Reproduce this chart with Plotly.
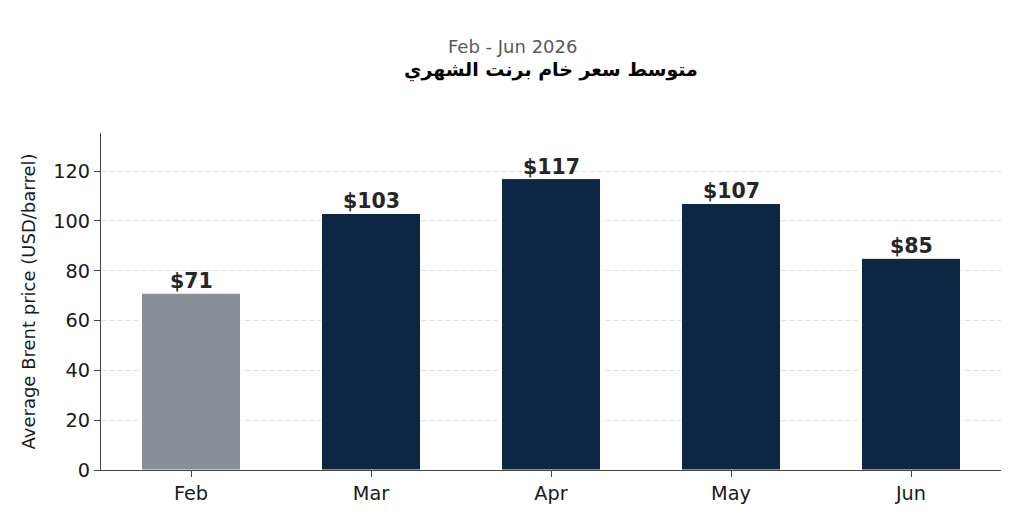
import plotly.graph_objects as go

# %% Data
months = ["Feb", "Mar", "Apr", "May", "Jun"]
brent_avg = [71, 103, 117, 107, 85]
bar_colors = ["#8a8e97", "#0d2644", "#0d2644", "#0d2644", "#0d2644"]
y_ticks = [0, 20, 40, 60, 80, 100, 120]

title_ar = "متوسط سعر خام برنت الشهري"
subtitle = "Feb - Jun 2026"
y_title = "Average Brent price (USD/barrel)"

# %% Layout constants (pixels)
W, H = 1024, 527
m_l, m_r, m_t, m_b = 101, 23, 133, 57
plot_h = H - m_t - m_b


def paper_y(px):
    # convert a pixel row (from top) to paper coordinates
    return (H - m_b - px) / plot_h


font = "DejaVu Sans"

# %% Figure
fig = go.Figure()
fig.add_trace(
    go.Bar(
        x=months,
        y=brent_avg,
        width=0.55,
        marker_color=bar_colors,
        marker_line_color="white",
        marker_line_width=1,
        hoverinfo="x+y",
    )
)

# value labels just above each bar
for m, v in zip(months, brent_avg):
    fig.add_annotation(
        x=m,
        y=v,
        text=f"<b>${v}</b>",
        showarrow=False,
        yanchor="bottom",
        yshift=-2,
        font=dict(family=font, size=20.5, color="#262626"),
    )

fig.update_layout(
    width=W,
    height=H,
    margin=dict(l=m_l, r=m_r, t=m_t, b=m_b),
    plot_bgcolor="white",
    paper_bgcolor="white",
    font=dict(family=font, color="#1a1a1a"),
    showlegend=False,
)

axis_style = dict(
    showline=True,
    linecolor="#444444",
    linewidth=1.2,
    ticks="outside",
    ticklen=6,
    tickcolor="#444444",
    tickfont=dict(size=19.3, color="#1a1a1a"),
)

fig.update_xaxes(range=[-0.5, 4.5], showgrid=False, **axis_style)
fig.update_yaxes(
    range=[0, 135.3],
    tickvals=y_ticks,
    showgrid=True,
    gridcolor="#e0e0e0",
    griddash="5px,3px",
    gridwidth=1.2,
    zeroline=False,
    title=dict(text=y_title, font=dict(size=18, color="#1a1a1a"), standoff=12),
    **axis_style,
)

# subtitle is centred on the figure, title on the plot area
fig.add_annotation(
    text=subtitle,
    xref="paper",
    yref="paper",
    x=(W / 2 - m_l) / (W - m_l - m_r),
    y=paper_y(46),
    yanchor="middle",
    showarrow=False,
    font=dict(family=font, size=18, color="#5a5a5a"),
)
fig.add_annotation(
    text=f"<b>{title_ar}</b>",
    xref="paper",
    yref="paper",
    x=0.5,
    y=paper_y(70),
    yanchor="middle",
    showarrow=False,
    font=dict(family=font, size=19, color="#000000"),
)

fig.write_html(
    "out.html",
    config={"displayModeBar": False},
    post_script="document.body.style.margin='0';",
)
